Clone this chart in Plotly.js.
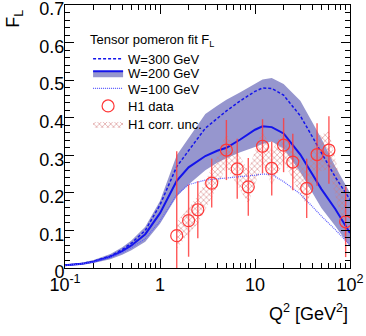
<!DOCTYPE html>
<html>
<head>
<meta charset="utf-8">
<script src="https://cdn.plot.ly/plotly-3.0.1.min.js"></script>
<style>
  html, body { margin: 0; padding: 0; background: #fff; }
  #plot { width: 366px; height: 336px; }
</style>
</head>
<body>
<div id="plot"></div>
<script>
// model curves
const q2Grid = [0.1, 0.15, 0.2, 0.3, 0.4, 0.5, 0.7, 1, 1.5, 2, 3, 4, 5, 7, 10, 12, 15, 20, 30, 40, 50, 70, 100];
const w300 = [0.007, 0.012, 0.018, 0.032, 0.049, 0.066, 0.1, 0.168, 0.27, 0.312, 0.372, 0.398, 0.418, 0.445, 0.47, 0.479, 0.478, 0.46, 0.405, 0.35, 0.306, 0.242, 0.182];
const w200 = [0.007, 0.011, 0.017, 0.03, 0.045, 0.06, 0.09, 0.146, 0.232, 0.268, 0.298, 0.312, 0.32, 0.342, 0.368, 0.377, 0.375, 0.358, 0.302, 0.252, 0.21, 0.157, 0.093];
const w200Lo = [0.005, 0.008, 0.013, 0.023, 0.035, 0.047, 0.07, 0.118, 0.19, 0.222, 0.26, 0.28, 0.292, 0.308, 0.322, 0.33, 0.337, 0.318, 0.255, 0.2, 0.16, 0.112, 0.057];
const w200Hi = [0.009, 0.014, 0.021, 0.037, 0.055, 0.073, 0.11, 0.178, 0.3, 0.345, 0.41, 0.432, 0.448, 0.468, 0.492, 0.502, 0.506, 0.49, 0.445, 0.39, 0.345, 0.27, 0.2];
const w100 = [0.007, 0.011, 0.016, 0.028, 0.041, 0.054, 0.078, 0.125, 0.195, 0.222, 0.234, 0.237, 0.239, 0.242, 0.247, 0.25, 0.249, 0.23, 0.197, 0.164, 0.138, 0.102, 0.061];

// H1 measurement
const h1Q2 = [1.5, 2, 2.5, 3.5, 5, 6.5, 8.5, 12, 15, 20, 25, 35, 45, 60, 90];
const h1FL = [0.086, 0.126, 0.155, 0.226, 0.314, 0.264, 0.216, 0.324, 0.265, 0.327, 0.282, 0.212, 0.302, 0.314, 0.123];
const h1Err = [0.225, 0.096, 0.076, 0.065, 0.08, 0.08, 0.077, 0.072, 0.072, 0.072, 0.075, 0.079, 0.083, 0.09, 0.094];
const h1Corr = [0.035, 0.035, 0.037, 0.04, 0.045, 0.045, 0.045, 0.045, 0.045, 0.045, 0.045, 0.047, 0.048, 0.05, 0.05];

const xTickVals = [0.1, 1, 10, 100];
const xTickText = ['10<sup>-1</sup>', '1', '10', '10<sup>2</sup>'];
const yTickVals = [0, 0.1, 0.2, 0.3, 0.4, 0.5, 0.6, 0.7];
const yTickText = ['0', '0.1', '0.2', '0.3', '0.4', '0.5', '0.6', '0.7'];

const FONT = 'Liberation Sans, Arial, sans-serif';
const BLUE = 'rgb(20,20,235)';
const BAND = 'rgb(150,150,206)';
const RED = 'rgb(255,55,55)';
const HATCH = { shape: 'x', fgcolor: 'rgba(210,120,120,0.8)', bgcolor: 'rgba(0,0,0,0)', size: 4, solidity: 0.3 };

// minor ticks at 2..9 of each decade
const xMinor = [];
for (let d = 0.1; d < 100; d *= 10) {
  for (let k = 2; k <= 9; k++) xMinor.push(+(k * d).toPrecision(3));
}

// hatched band polygon: upper edge forwards, lower edge back
const corrX = h1Q2.concat(h1Q2.slice().reverse());
const corrY = h1FL.map((v, i) => v + h1Corr[i])
  .concat(h1FL.map((v, i) => v - h1Corr[i]).reverse());

const traces = [
  { x: q2Grid, y: w200Lo, mode: 'lines', line: { width: 0 }, showlegend: false },
  { x: q2Grid, y: w200Hi, mode: 'lines', line: { width: 0 }, fill: 'tonexty', fillcolor: BAND, showlegend: false },
  { x: corrX, y: corrY, mode: 'lines', line: { width: 0 }, fill: 'toself', fillcolor: 'rgba(0,0,0,0)',
    fillpattern: HATCH, showlegend: false },
  { x: q2Grid, y: w300, mode: 'lines', name: 'W=300 GeV', legend: 'legend',
    line: { color: BLUE, width: 1.5, dash: '3px,2px' } },
  // zero-width copy so that the W=200 legend entry shows the band swatch
  { x: q2Grid, y: w200, mode: 'lines', line: { width: 0 }, showlegend: false },
  { x: q2Grid, y: w200, mode: 'lines', name: 'W=200 GeV', legend: 'legend2',
    line: { color: BLUE, width: 2 }, fill: 'tonexty', fillcolor: BAND },
  { x: q2Grid, y: w100, mode: 'lines', name: 'W=100 GeV', legend: 'legend3',
    line: { color: 'rgb(90,90,255)', width: 1.2, dash: '1px,1px' } },
  { x: h1Q2, y: h1FL, mode: 'markers', name: 'H1 data', legend: 'legend4',
    marker: { symbol: 'circle-open', size: 12, color: RED, line: { width: 1.2, color: RED } },
    error_y: { type: 'data', array: h1Err, visible: true, color: 'rgba(255,60,60,0.85)', thickness: 1.4, width: 0 } },
  // legend-only entry for the hatched band
  { x: [null], y: [null], mode: 'lines', name: 'H1 corr. unc.', legend: 'legend5',
    line: { width: 0 }, fill: 'toself', fillcolor: 'rgba(0,0,0,0)', fillpattern: HATCH }
];

const axisCommon = {
  showline: true, linecolor: '#000', linewidth: 1, mirror: 'allticks',
  ticks: 'inside', ticklen: 9, tickwidth: 1, tickcolor: '#000',
  showgrid: false, zeroline: false,
  tickfont: { family: FONT, size: 18, color: '#000' }
};

// plot area spans pixel rows 5..268
const rowToPaper = p => (268 - p) / 263;
const legFont = { family: FONT, size: 13, color: '#000' };
function entryLegend(row) {
  return { x: 0.081, xanchor: 'left', y: rowToPaper(row), yanchor: 'middle',
    bgcolor: 'rgba(0,0,0,0)', borderwidth: 0, font: legFont };
}

const layout = {
  width: 366, height: 336,
  margin: { l: 65, r: 16, t: 5, b: 68 },
  paper_bgcolor: '#fff', plot_bgcolor: '#fff',
  font: { family: FONT, color: '#000' },
  xaxis: Object.assign({}, axisCommon, {
    type: 'log', range: [-1, 2],
    tickmode: 'array', tickvals: xTickVals, ticktext: xTickText,
    ticklabeloverflow: 'allow',
    minor: { tickmode: 'array', tickvals: xMinor, ticks: 'inside', ticklen: 5, tickcolor: '#000' }
  }),
  yaxis: Object.assign({}, axisCommon, {
    range: [0, 0.7], tickmode: 'array', tickvals: yTickVals, ticktext: yTickText,
    ticklabeloverflow: 'allow', ticklabelshift: 4, ticklabelstandoff: -4,
    minor: { dtick: 0.02, ticks: 'inside', ticklen: 5, tickcolor: '#000' }
  }),
  showlegend: true,
  legend: { x: 0.081, xanchor: 'left', y: rowToPaper(27), yanchor: 'top',
    bgcolor: 'rgba(0,0,0,0)', borderwidth: 0, font: legFont,
    title: { text: 'Tensor pomeron fit F<sub>L</sub>', font: legFont } },
  legend2: entryLegend(73.3),
  legend3: entryLegend(88.5),
  legend4: entryLegend(106),
  legend5: entryLegend(124),
  annotations: [
    { text: 'F<sub>L</sub>', xref: 'paper', yref: 'paper', x: -0.175, y: 0.99, xanchor: 'center', yanchor: 'top',
      textangle: -90, showarrow: false, font: { family: FONT, size: 18, color: '#000' } },
    { text: 'Q<sup>2</sup> [GeV<sup>2</sup>]', xref: 'paper', yref: 'paper', x: 1, y: -0.168,
      xanchor: 'right', yanchor: 'middle', showarrow: false, font: { family: FONT, size: 18, color: '#000' } }
  ]
};

Plotly.newPlot('plot', traces, layout, { displayModeBar: false, staticPlot: true });
</script>
</body>
</html>
